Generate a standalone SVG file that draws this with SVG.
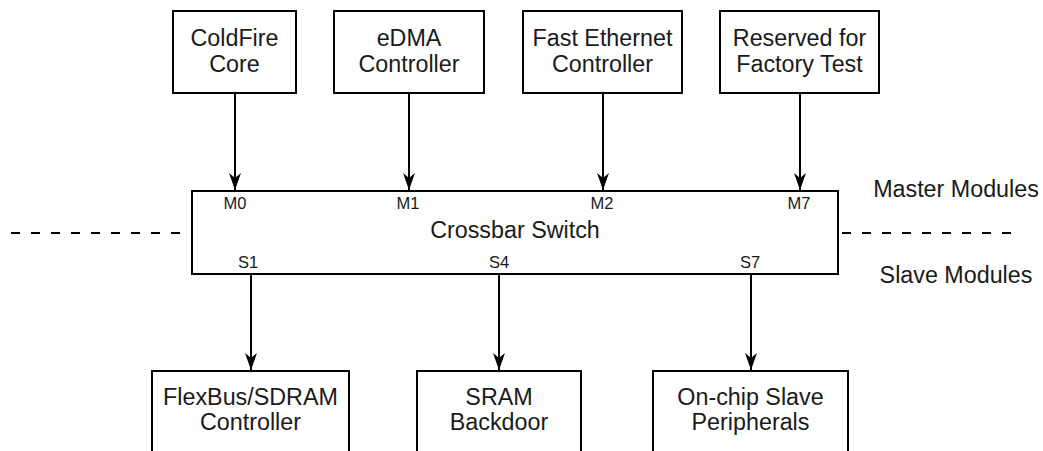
<svg xmlns="http://www.w3.org/2000/svg" width="1043" height="451" viewBox="0 0 1043 451">
<defs>
<style>
.box{fill:#fff;stroke:#000;stroke-width:2}
.t{font-family:"Liberation Sans",Arial,sans-serif;font-size:23.3px;fill:#1a1a1a;text-anchor:middle}
.s{font-family:"Liberation Sans",Arial,sans-serif;font-size:16.5px;fill:#1a1a1a;text-anchor:middle}
.ln{stroke:#000;stroke-width:2;fill:none}
.dash{stroke:#000;stroke-width:2;stroke-dasharray:9 11;fill:none}
</style>
<marker id="ah" markerUnits="userSpaceOnUse" markerWidth="20" markerHeight="14" viewBox="-18 -7 20 14" refX="0" refY="0" orient="auto">
<path d="M0,0 L-17,-6 L-12,0 L-17,6 Z" fill="#000"/>
</marker>
</defs>
<g id="connectors">
<line class="dash" x1="11" y1="233" x2="192" y2="233"/>
<line class="dash" x1="842" y1="233" x2="1022" y2="233"/>
<line class="ln" x1="235" y1="94" x2="235" y2="190" marker-end="url(#ah)"/>
<line class="ln" x1="409" y1="94" x2="409" y2="190" marker-end="url(#ah)"/>
<line class="ln" x1="603" y1="94" x2="603" y2="190" marker-end="url(#ah)"/>
<line class="ln" x1="800" y1="94" x2="800" y2="190" marker-end="url(#ah)"/>
<line class="ln" x1="251" y1="274" x2="251" y2="370" marker-end="url(#ah)"/>
<line class="ln" x1="499" y1="274" x2="499" y2="370" marker-end="url(#ah)"/>
<line class="ln" x1="751" y1="274" x2="751" y2="370" marker-end="url(#ah)"/>
</g>
<g id="coldfire"><rect class="box" x="173" y="11" width="123" height="82"/><text class="t" x="234.5" y="46">ColdFire</text><text class="t" x="234.5" y="72">Core</text></g>
<g id="edma"><rect class="box" x="334" y="11" width="150" height="82"/><text class="t" x="409" y="46">eDMA</text><text class="t" x="409" y="72">Controller</text></g>
<g id="fec"><rect class="box" x="523" y="11" width="159" height="82"/><text class="t" x="602.5" y="46">Fast Ethernet</text><text class="t" x="602.5" y="72">Controller</text></g>
<g id="reserved"><rect class="box" x="720" y="11" width="159" height="82"/><text class="t" x="799.5" y="46">Reserved for</text><text class="t" x="799.5" y="72">Factory Test</text></g>
<g id="crossbar"><rect class="box" x="192" y="191" width="646" height="83"/>
<text class="t" x="515" y="238">Crossbar Switch</text>
<text class="s" x="235" y="209">M0</text><text class="s" x="408" y="209">M1</text><text class="s" x="602" y="209">M2</text><text class="s" x="799" y="209">M7</text>
<text class="s" x="248" y="268">S1</text><text class="s" x="499" y="268">S4</text><text class="s" x="750" y="268">S7</text>
</g>
<g id="labels"><text class="t" x="956" y="197">Master Modules</text><text class="t" x="956" y="283">Slave Modules</text></g>
<g id="flexbus"><rect class="box" x="152" y="371" width="197" height="90"/><text class="t" x="250.5" y="405">FlexBus/SDRAM</text><text class="t" x="250.5" y="430">Controller</text></g>
<g id="sram"><rect class="box" x="417" y="371" width="164" height="90"/><text class="t" x="499" y="405">SRAM</text><text class="t" x="499" y="430">Backdoor</text></g>
<g id="onchip"><rect class="box" x="653" y="371" width="195" height="90"/><text class="t" x="750.5" y="405">On-chip Slave</text><text class="t" x="750.5" y="430">Peripherals</text></g>
</svg>
